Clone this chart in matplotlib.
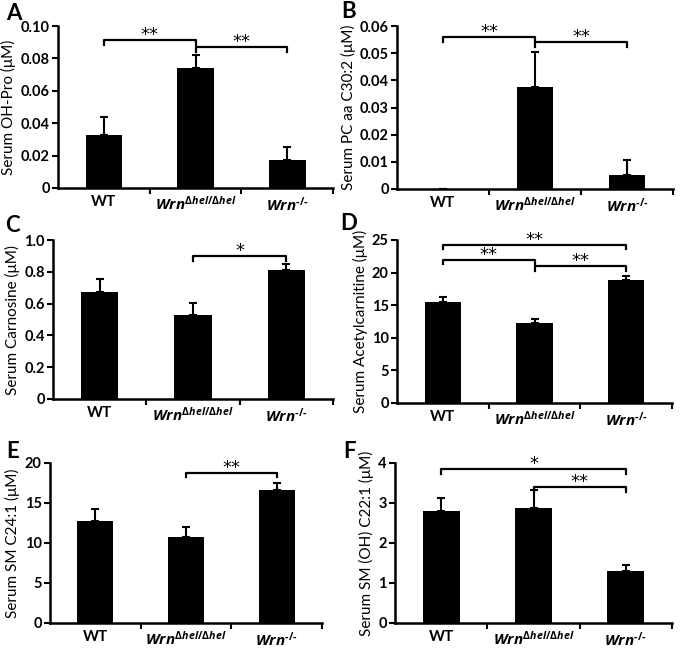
import matplotlib
matplotlib.use("Agg")
import matplotlib.pyplot as plt
from matplotlib.ticker import FixedLocator

plt.rcParams['font.family'] = ['Lato', 'DejaVu Sans']
plt.rcParams['mathtext.fontset'] = 'custom'
plt.rcParams['mathtext.it'] = 'Open Sans:italic:bold'
plt.rcParams['mathtext.rm'] = 'Open Sans:bold'
plt.rcParams['mathtext.bf'] = 'Open Sans:bold'

categories = ['WT', r'$Wrn^{\Delta hel/\Delta hel}$', r'$Wrn^{\text{-/-}}$']

# panel data: means and upper error (sd)
a_mean = [0.033, 0.074, 0.017]
a_err = [0.011, 0.008, 0.008]
b_mean = [0.0, 0.0375, 0.0052]
b_err = [0.0, 0.013, 0.0053]
c_mean = [0.675, 0.53, 0.81]
c_err = [0.08, 0.075, 0.04]
d_mean = [15.5, 12.2, 18.8]
d_err = [0.7, 0.7, 0.7]
e_mean = [12.8, 10.8, 16.6]
e_err = [1.4, 1.2, 0.9]
f_mean = [2.8, 2.88, 1.3]
f_err = [0.32, 0.45, 0.16]

W, H = 680, 649
fig = plt.figure(figsize=(W / 100, H / 100), dpi=100)


def px_axes(left, top, right, bottom):
    return fig.add_axes([left / W, 1 - bottom / H, (right - left) / W, (bottom - top) / H])


def panel(box, letter, letter_xy, mean, err, ymax, yticks, yticklabels, ylabel, brackets):
    ax = px_axes(*box)
    x = list(range(len(categories)))
    ax.bar(x, mean, width=0.4, color='black', zorder=2)
    ax.errorbar(x, mean, yerr=[[0] * len(err), err], fmt='none', ecolor='black',
                elinewidth=1.5, capsize=3, capthick=1.5, zorder=1)
    ax.set_xlim(-0.5, 2.5)
    ax.set_ylim(0, ymax)
    ax.set_yticks(yticks)
    ax.set_yticklabels(yticklabels, fontsize=10.5, fontweight='bold')
    ax.set_xticks(x)
    ax.set_xticklabels(categories, fontsize=11, fontweight='bold')
    ax.xaxis.set_minor_locator(FixedLocator([0.5, 1.5, 2.5]))
    ax.tick_params(axis='x', which='major', length=0, pad=5)
    ax.tick_params(axis='x', which='minor', length=4, width=1.5, direction='out')
    ax.tick_params(axis='y', length=4, width=1.5, direction='out', pad=2)
    for s in ['top', 'right']:
        ax.spines[s].set_visible(False)
    for s in ['left', 'bottom']:
        ax.spines[s].set_linewidth(1.8)
    ax.set_ylabel(ylabel, fontsize=11, labelpad=3)
    fig.text(letter_xy[0] / W, 1 - letter_xy[1] / H, letter, fontsize=16,
             fontweight='bold', ha='left', va='center')
    for (i, j, yb, label) in brackets:
        t = ymax * 0.03
        ax.plot([i, i, j, j], [yb - t, yb, yb, yb - t], color='black', lw=1.6,
                clip_on=False, zorder=3)
        ax.text((i + j) / 2, yb - ymax * 0.025, label, ha='center', va='bottom',
                fontsize=13, family='DejaVu Sans', clip_on=False)
    return ax


panel((58, 26, 333, 188), 'A', (6, 14), a_mean, a_err, 0.10,
      [0, 0.02, 0.04, 0.06, 0.08, 0.10], ['0', '0.02', '0.04', '0.06', '0.08', '0.10'],
      'Serum OH-Pro (μM)', [(0, 1, 0.0915, '**'), (1, 2, 0.0870, '**')])
panel((397, 26, 673, 189), 'B', (341, 12), b_mean, b_err, 0.06,
      [0, 0.01, 0.02, 0.03, 0.04, 0.05, 0.06], ['0', '0.01', '0.02', '0.03', '0.04', '0.05', '0.06'],
      'Serum PC aa C30:2 (μM)', [(0, 1, 0.0560, '**'), (1, 2, 0.0540, '**')])
panel((53, 240, 333, 399), 'C', (5, 226), c_mean, c_err, 1.0,
      [0, 0.2, 0.4, 0.6, 0.8, 1.0], ['0', '0.2', '0.4', '0.6', '0.8', '1.0'],
      'Serum Carnosine (μM)', [(1, 2, 0.90, '*')])
panel((397, 240, 672, 403), 'D', (340, 224), d_mean, d_err, 25,
      [0, 5, 10, 15, 20, 25], ['0', '5', '10', '15', '20', '25'],
      'Serum Acetylcarnitine (μM)',
      [(0, 2, 24.3, '**'), (0, 1, 22.0, '**'), (1, 2, 21.0, '**')])
panel((50, 463, 322, 623), 'E', (6, 452), e_mean, e_err, 20,
      [0, 5, 10, 15, 20], ['0', '5', '10', '15', '20'],
      'Serum SM C24:1 (μM)', [(1, 2, 18.8, '**')])
panel((395, 463, 672, 623), 'F', (343, 451), f_mean, f_err, 4,
      [0, 1, 2, 3, 4], ['0', '1', '2', '3', '4'],
      'Serum SM (OH) C22:1 (μM)', [(0, 2, 3.85, '*'), (1, 2, 3.40, '**')])

fig.savefig('out.png', dpi=100)
